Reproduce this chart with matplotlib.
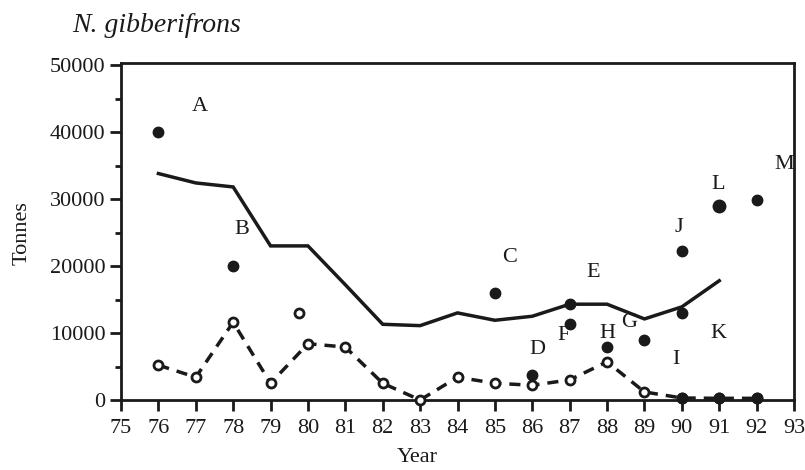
import matplotlib.pyplot as plt
from matplotlib.ticker import MultipleLocator

# catch estimate (solid line)
years_line = [76, 77, 78, 79, 80, 81, 82, 83, 84, 85, 86, 87, 88, 89, 90, 91]
tonnes_line = [33800, 32400, 31800, 23000, 23000, 17200, 11300, 11100, 13000,
               11900, 12500, 14300, 14300, 12100, 13900, 17800]

# dashed series with open circles
years_dash = [76, 77, 78, 79, 80, 81, 82, 83, 84, 85, 86, 87, 88, 89, 90, 91, 92]
tonnes_dash = [5200, 3400, 11600, 2500, 8400, 7900, 2500, 0, 3400, 2500, 2200,
               3000, 5700, 1200, 300, 250, 250]

# labelled estimates (filled dots)
dot_labels = ['A', 'B', 'C', 'D', 'E', 'F', 'H', 'G', 'J', 'K', 'L', 'M']
dot_years = [76, 78, 85, 86, 87, 87, 88, 89, 90, 90, 91, 92]
dot_tonnes = [40000, 20000, 16000, 3700, 14300, 11300, 7900, 9000, 22200, 13000, 29000, 29900]
base_years = [90, 91, 92]
base_tonnes = [300, 300, 300]

# where the letters are written
lab_text = ['A', 'B', 'C', 'D', 'E', 'F', 'H', 'G', 'I', 'K', 'J', 'L', 'M']
lab_x = [77.12, 78.24, 85.39, 86.14, 87.62, 86.84, 88.02, 88.6, 89.84, 90.99, 89.92, 90.97, 92.73]
lab_y = [43800, 25400, 21200, 7500, 19100, 9600, 10000, 11500, 6000, 10000, 25800, 32100, 35100]

# lone open point near 80
open_x = [79.77]
open_y = [13000]

ink = '#1a1a1a'
plt.rcParams['font.family'] = ['Liberation Serif', 'DejaVu Serif']

fig = plt.figure(figsize=(8.05, 4.70), dpi=100)
ax = fig.add_axes([121/805, 1-400/470, 673/805, 337/470])

ax.plot(years_line, tonnes_line, color=ink, lw=2.5, solid_joinstyle='miter', zorder=3)
ax.plot(years_dash, tonnes_dash, color=ink, lw=2.5, dashes=(3.2, 2.3), marker='o',
        ms=6.5, mfc='white', mec=ink, mew=2, zorder=3, clip_on=False)
ax.plot(dot_years, dot_tonnes, 'o', color=ink, ms=7.5, zorder=4)
ax.plot([91], [29000], 'o', color=ink, ms=9, zorder=4)
ax.plot(base_years, base_tonnes, 'o', color=ink, ms=7.5, zorder=4, clip_on=False)
ax.plot(open_x, open_y, 'o', ms=6.5, mfc='white', mec=ink, mew=2, zorder=4)

for t, x, y in zip(lab_text, lab_x, lab_y):
    ax.text(x, y, t, fontsize=16, color=ink, ha='center', va='center')

ax.set_xlim(75, 93)
ax.set_ylim(0, 50300)
ax.xaxis.set_major_locator(MultipleLocator(1))
ax.yaxis.set_major_locator(MultipleLocator(10000))
ax.yaxis.set_minor_locator(MultipleLocator(5000))
ax.tick_params(axis='both', which='major', direction='out', length=8, width=2,
               labelsize=16, colors=ink)
ax.tick_params(axis='x', pad=6)
ax.tick_params(axis='y', pad=3)
ax.tick_params(axis='y', which='minor', direction='out', length=4, width=2, colors=ink)
for s in ax.spines.values():
    s.set_linewidth(2)
    s.set_color(ink)

fig.text(72/805, 1-25/470, 'N. gibberifrons', fontsize=20, style='italic',
         color=ink, va='center', ha='left')
fig.text(22/805, 1-233/470, 'Tonnes', fontsize=16, rotation=90, color=ink,
         va='center', ha='center')
fig.text(417/805, 1-457/470, 'Year', fontsize=16, color=ink, va='center', ha='center')

fig.savefig('out.png', dpi=100)
